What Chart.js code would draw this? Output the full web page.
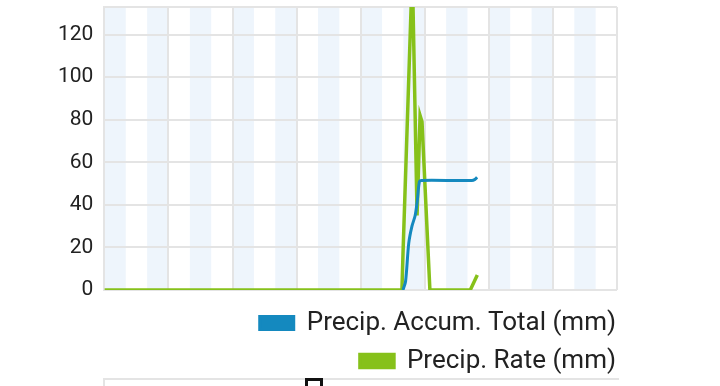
<!DOCTYPE html>
<html>
<head>
<meta charset="utf-8">
<script src="https://cdn.jsdelivr.net/npm/chart.js@4"></script>
<style>
  html, body { margin: 0; padding: 0; background: #fff; overflow: hidden; }
  #wrap { position: absolute; left: 0; top: 0; width: 628px; height: 384px; }
  #next { position: absolute; left: 103px; top: 378px; width: 514px; height: 20px;
          border-top: 2px solid #e4e4e4; border-left: 2px solid #e4e4e4; background: #fff; }
  #marker { position: absolute; left: 305px; top: 378px; width: 12px; height: 14px;
            border: 3px solid #111; border-bottom: none; }
</style>
</head>
<body>
<div id="wrap"><canvas id="precipChart"></canvas></div>
<div id="next"></div>
<div id="marker"></div>
<script>
// PRECIP DATA (x = hour of day)

const accumHours = [13.98, 14.1, 14.25, 14.4, 14.55, 14.65, 14.75, 14.85, 17.2, 17.35, 17.45];
const accumTotal = [0, 4, 22, 30, 35, 42, 51, 51.5, 51.5, 52, 53];

const rateHours = [0, 13.93, 13.98, 14.36, 14.45, 14.64, 14.78, 14.87, 15.24, 17.13, 17.46];
const rateValues = [0, 0, 17, 133, 133, 35, 82, 79, 0, 0, 7];

const yTicks = [0, 20, 40, 60, 80, 100, 120];

const toPoints = (xs, ys) => xs.map((x, i) => ({ x: x, y: ys[i] }));

// light blue bands on every other hour + top border
const bandPlugin = {
    id: 'bands',
    beforeDraw(chart) {
        const { ctx, chartArea, scales } = chart;
        ctx.save();
        ctx.fillStyle = '#eef5fc';
        for (let h = 0; h < 24; h += 2) {
            const x1 = scales.x.getPixelForValue(h);
            const x2 = scales.x.getPixelForValue(h + 1);
            ctx.fillRect(x1, chartArea.top, x2 - x1, chartArea.bottom - chartArea.top);
        }
        ctx.strokeStyle = '#e4e4e4';
        ctx.lineWidth = 2;
        ctx.beginPath();
        ctx.moveTo(chartArea.left, chartArea.top);
        ctx.lineTo(chartArea.right, chartArea.top);
        ctx.stroke();
        ctx.restore();
    }
};

const precipCtx = document.getElementById('precipChart');

new Chart(precipCtx, {
    type: 'line',
    data: {
        datasets: [{
            label: 'Precip. Accum. Total (mm)',
            data: toPoints(accumHours, accumTotal),
            borderColor: '#1489bf',
            backgroundColor: '#1489bf',
            borderWidth: 3,
            pointRadius: 0,
            tension: 0.3
        }, {
            label: 'Precip. Rate (mm)',
            data: toPoints(rateHours, rateValues),
            borderColor: '#86c11a',
            backgroundColor: '#86c11a',
            borderWidth: 3.5,
            pointRadius: 0,
            tension: 0
        }]
    },
    options: {
        responsive: true,
        maintainAspectRatio: false,
        animation: false,
        layout: { padding: { top: 7, left: 47 } },
        plugins: {
            legend: {
                position: 'bottom',
                align: 'end',
                labels: {
                    boxWidth: 34,
                    boxHeight: 13,
                    padding: 12,
                    color: '#222',
                    font: { family: 'Roboto', size: 26 }
                }
            },
            tooltip: { enabled: false }
        },
        scales: {
            x: {
                type: 'linear',
                min: 0,
                max: 24,
                afterFit: (axis) => { axis.paddingRight = 11; axis.height = 8; },
                ticks: { display: false, stepSize: 3 },
                grid: { color: '#e4e4e4', lineWidth: 2, drawTicks: false },
                border: { display: false }
            },
            y: {
                min: 0,
                max: 133,
                afterBuildTicks: (axis) => { axis.ticks = yTicks.map(v => ({ value: v })); },
                afterFit: (axis) => { axis.paddingTop = 0; },
                ticks: {
                    color: '#222',
                    padding: 11,
                    font: { family: 'Roboto', size: 21 }
                },
                grid: { color: '#e4e4e4', lineWidth: 2, drawTicks: false },
                border: { color: '#e4e4e4', width: 2 }
            }
        }
    },
    plugins: [bandPlugin]
});
</script>
</body>
</html>
